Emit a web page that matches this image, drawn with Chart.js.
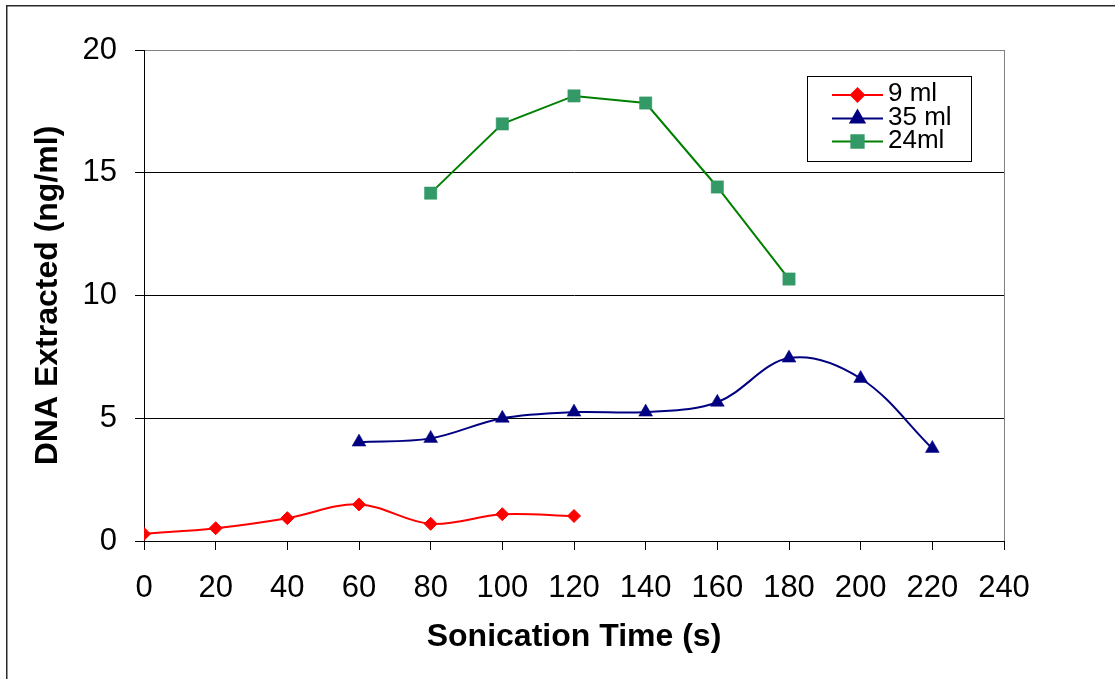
<!DOCTYPE html>
<html>
<head>
<meta charset="utf-8">
<script src="https://cdn.jsdelivr.net/npm/chart.js@4/dist/chart.umd.min.js"></script>
<style>
  html, body { margin: 0; padding: 0; background: #fff; }
  #wrap { width: 1115px; height: 679px; position: relative; }
</style>
</head>
<body>
<div id="wrap"><canvas id="c" width="1115" height="679"></canvas></div>
<script>
// ---- data ----
const seriesNames = ["9 ml", "35 ml", "24ml"];
const time9 = [0, 20, 40, 60, 80, 100, 120];
const dna9 = [0.29, 0.52, 0.93, 1.49, 0.7, 1.09, 1.02];
const time35 = [60, 80, 100, 120, 140, 160, 180, 200, 220];
const dna35 = [4.03, 4.18, 5.0, 5.25, 5.25, 5.65, 7.45, 6.62, 3.77];
const time24 = [80, 100, 120, 140, 160, 180];
const dna24 = [14.17, 16.99, 18.13, 17.84, 14.42, 10.67];
const xTicks = [0, 20, 40, 60, 80, 100, 120, 140, 160, 180, 200, 220, 240];
const yTicks = [0, 5, 10, 15, 20];
const xTitle = "Sonication Time (s)";
const yTitle = "DNA Extracted (ng/ml)";

const toPts = (xs, ys) => xs.map((x, i) => ({ x: x, y: ys[i] }));

const FONT = "'Liberation Sans', Arial, sans-serif";

const datasets = [
  {
    label: seriesNames[0], data: toPts(time9, dna9),
    borderColor: "#FF0000", backgroundColor: "#FF0000",
    pointStyle: "rectRot", pointRadius: 6.5, pointBorderWidth: 1,
    borderWidth: 2, tension: 0.35
  },
  {
    label: seriesNames[1], data: toPts(time35, dna35),
    borderColor: "#000080", backgroundColor: "#000080",
    pointStyle: "triangle", pointRadius: 8, pointBorderWidth: 0.5,
    borderWidth: 2, tension: 0.35
  },
  {
    label: seriesNames[2], data: toPts(time24, dna24),
    borderColor: "#008000", backgroundColor: "#339966",
    pointBorderColor: "#339966",
    pointStyle: "rect", pointRadius: 8.7, pointBorderWidth: 0.5,
    borderWidth: 2, tension: 0
  }
];

const framePlugin = {
  id: "frame",
  beforeDraw(chart) {
    const ctx = chart.ctx;
    ctx.save();
    ctx.fillStyle = "#fff";
    ctx.fillRect(0, 0, chart.width, chart.height);
    ctx.strokeStyle = "#2a2a2a";
    ctx.lineWidth = 1.5;
    ctx.beginPath();
    ctx.moveTo(6.75, chart.height + 2);
    ctx.lineTo(6.75, 5.75);
    ctx.lineTo(chart.width + 2, 5.75);
    ctx.stroke();
    ctx.restore();
  },
  afterDatasetsDraw(chart) {
    // plot-area right border (gray)
    const a = chart.chartArea, ctx = chart.ctx;
    ctx.save();
    ctx.strokeStyle = "#808080";
    ctx.lineWidth = 1;
    ctx.beginPath();
    ctx.moveTo(Math.round(a.right) + 0.5, a.top);
    ctx.lineTo(Math.round(a.right) + 0.5, a.bottom);
    ctx.stroke();
    ctx.restore();
  },
  afterDraw(chart) {
    // legend box inside plot
    const ctx = chart.ctx;
    const bx = 807.5, by = 76.5, bw = 164, bh = 85;
    ctx.save();
    ctx.fillStyle = "#fff";
    ctx.fillRect(bx, by, bw, bh);
    ctx.strokeStyle = "#000";
    ctx.lineWidth = 1;
    ctx.strokeRect(bx, by, bw, bh);
    const rows = [95, 118.5, 141.5];
    chart.data.datasets.forEach((ds, i) => {
      const y = rows[i];
      ctx.strokeStyle = ds.borderColor;
      ctx.lineWidth = 2;
      ctx.beginPath();
      ctx.moveTo(832, y);
      ctx.lineTo(883, y);
      ctx.stroke();
      ctx.fillStyle = ds.backgroundColor;
      ctx.strokeStyle = ds.pointBorderColor || ds.borderColor;
      Chart.helpers.drawPoint(ctx, {
        pointStyle: ds.pointStyle, radius: ds.pointRadius,
        borderWidth: ds.pointBorderWidth, rotation: 0
      }, 857.5, y);
      ctx.fillStyle = "#000";
      ctx.font = "26px " + FONT;
      ctx.textBaseline = "middle";
      ctx.textAlign = "left";
      ctx.fillText(ds.label, 888, y - 1);
    });
    ctx.restore();
  }
};

new Chart(document.getElementById("c"), {
  type: "line",
  data: { datasets: datasets },
  plugins: [framePlugin],
  options: {
    responsive: false,
    animation: false,
    devicePixelRatio: 1,
    layout: { padding: { top: 50, right: 111, left: 0, bottom: 0 } },
    plugins: { legend: { display: false }, tooltip: { enabled: false } },
    scales: {
      x: {
        type: "linear", min: 0, max: 240,
        afterBuildTicks: (s) => { s.ticks = xTicks.map(v => ({ value: v })); },
        afterFit: (s) => { s.height = 138; },
        ticks: { color: "#000", font: { family: FONT, size: 31 }, padding: 20, maxRotation: 0, autoSkip: false },
        grid: { drawOnChartArea: false, tickLength: 9, color: "#000", tickColor: "#000" },
        border: { color: "#000", width: 1 },
        title: { display: true, text: xTitle, color: "#000", font: { family: FONT, size: 32, weight: "bold" }, padding: { top: 0, bottom: 23 } }
      },
      y: {
        type: "linear", min: 0, max: 20,
        afterBuildTicks: (s) => { s.ticks = yTicks.map(v => ({ value: v })); },
        afterFit: (s) => { s.width = 144; },
        ticks: { color: "#000", font: { family: FONT, size: 31 }, padding: 18 },
        grid: {
          tickLength: 9, tickColor: "#000",
          color: (c) => (c.tick && c.tick.value === 20 ? "#808080" : "#000")
        },
        border: { color: "#000", width: 1 },
        title: { display: true, text: yTitle, color: "#000", font: { family: FONT, size: 32, weight: "bold" }, padding: { top: 29, bottom: 0 } }
      }
    }
  }
});
</script>
</body>
</html>
